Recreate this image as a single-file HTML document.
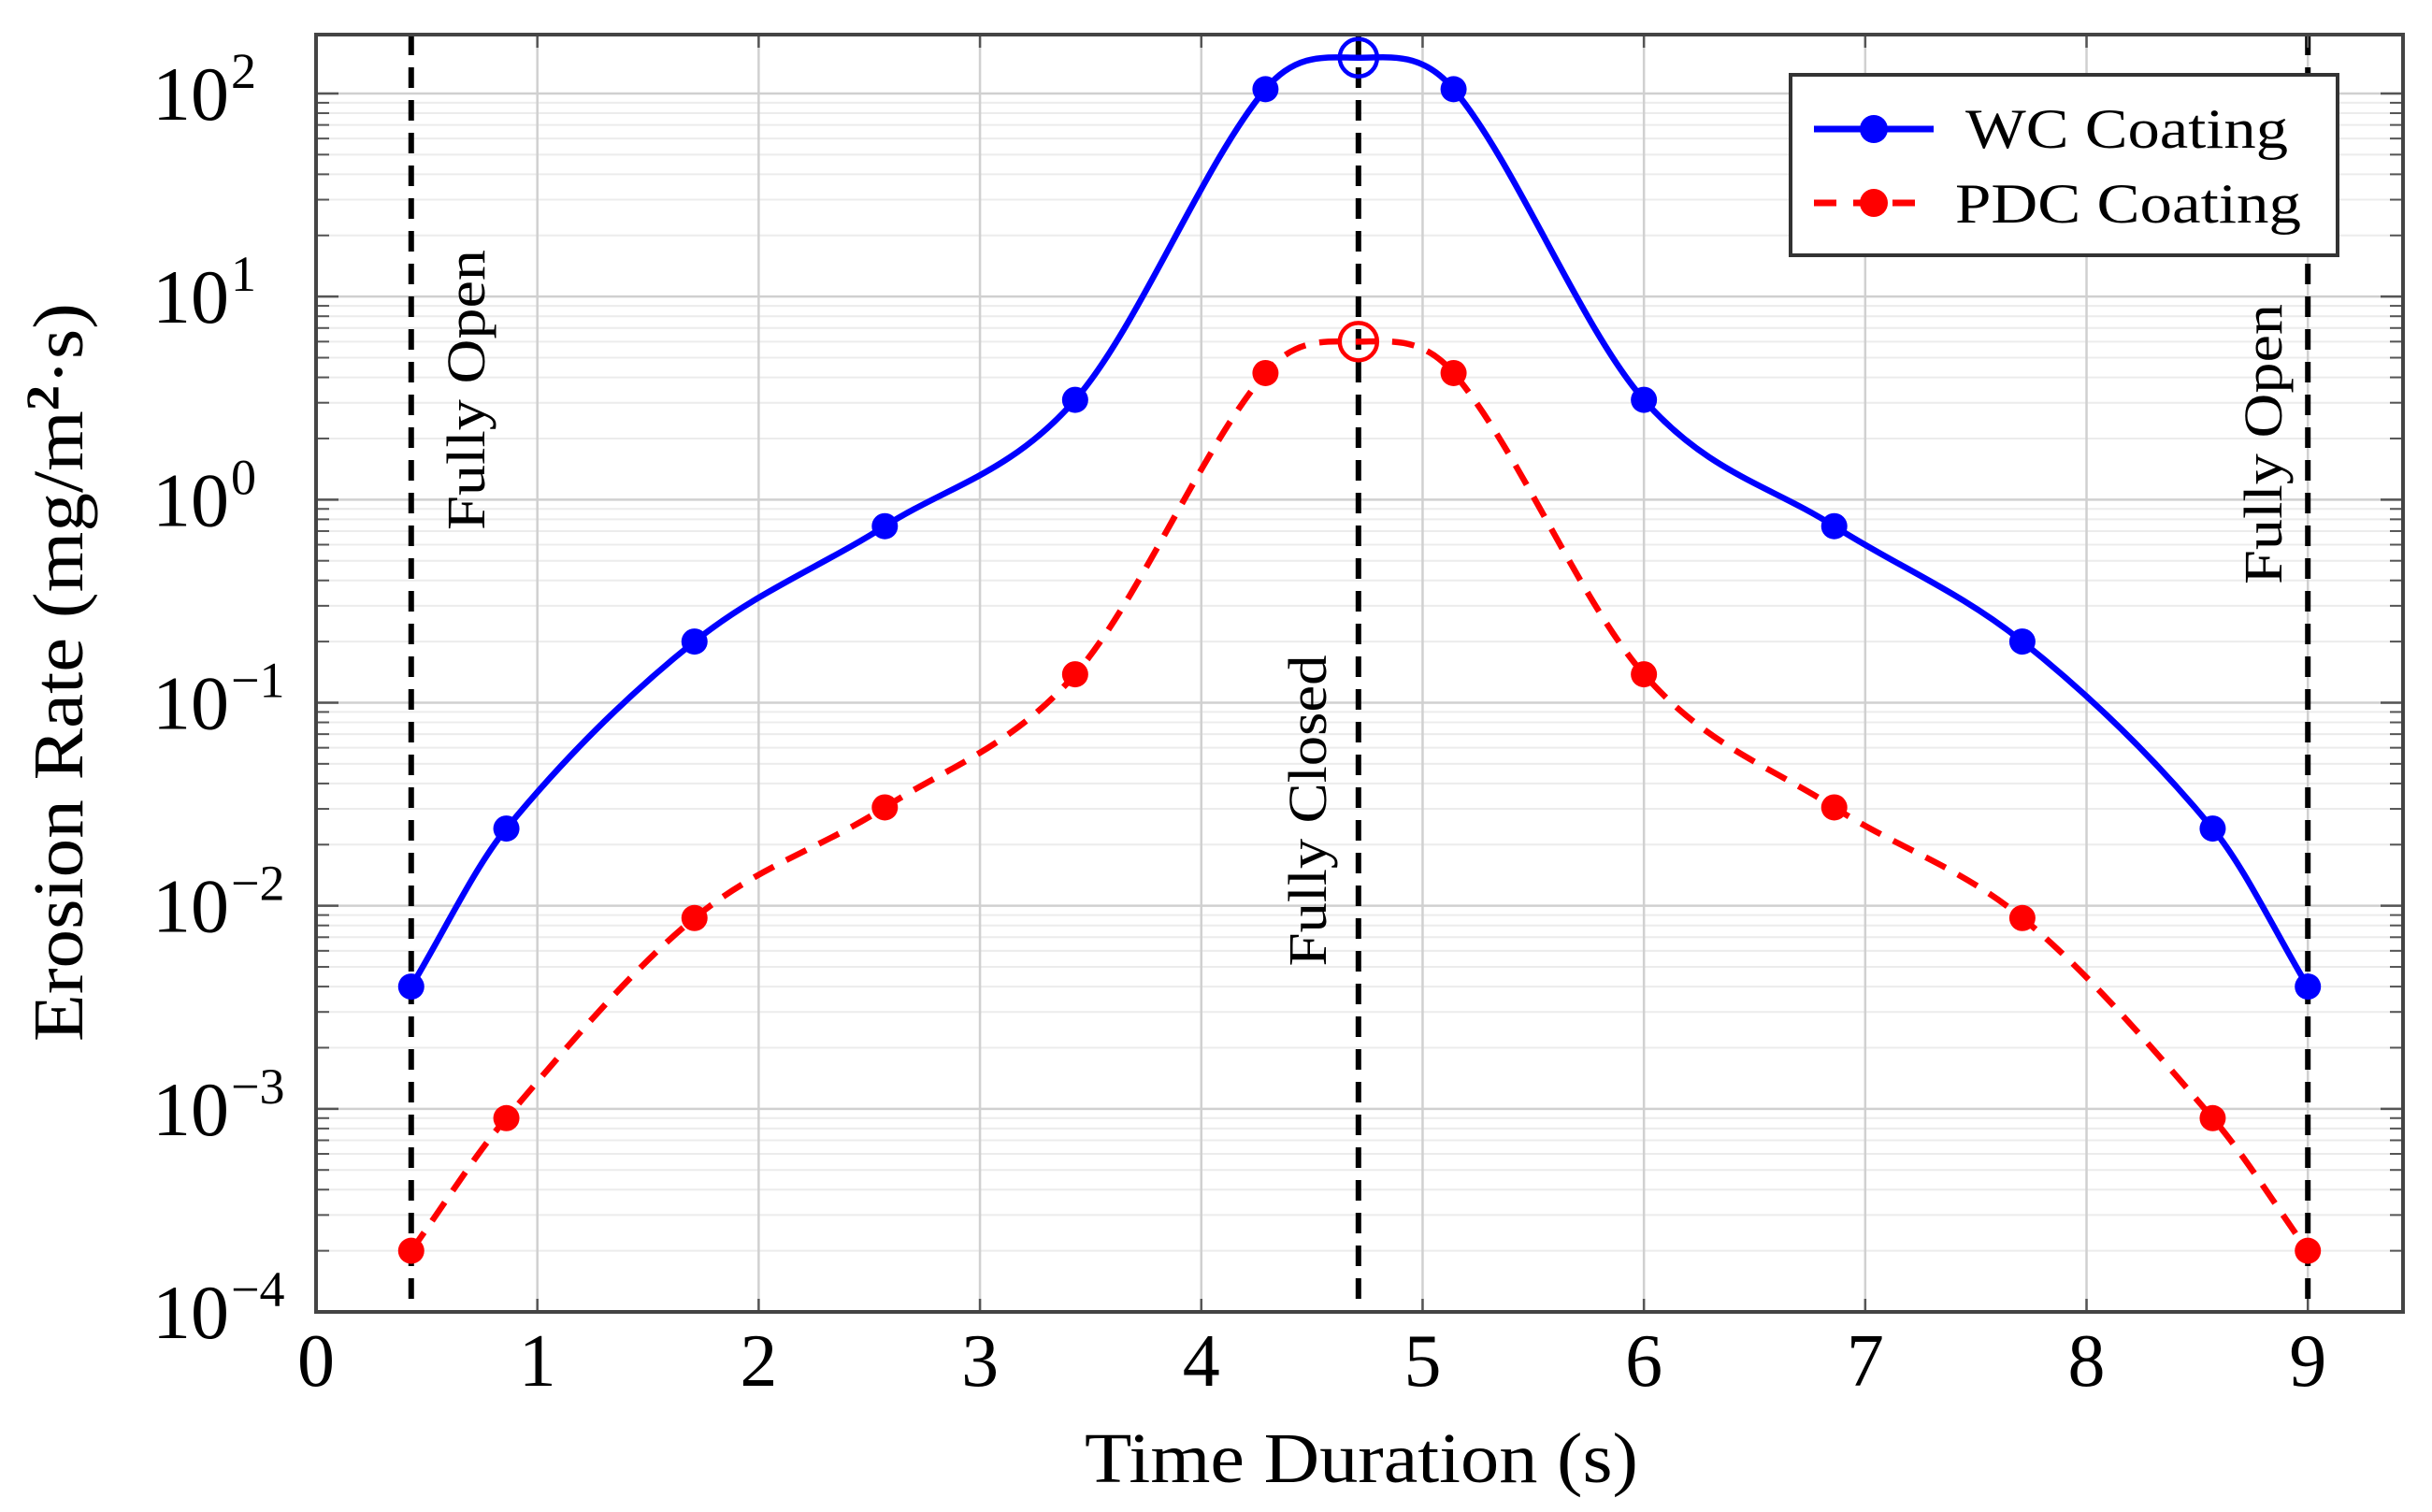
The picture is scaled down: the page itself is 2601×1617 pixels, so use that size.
<!DOCTYPE html>
<html><head><meta charset="utf-8"><style>
html,body{margin:0;padding:0;background:#fff;}
svg{display:block;}
text{font-family:"Liberation Serif",serif;fill:#000;}
</style></head><body>
<svg id="chart" width="2601" height="1617" viewBox="0 0 2601 1617" xmlns="http://www.w3.org/2000/svg">
<g id="grid"></g>
<g id="marks"></g>
<g id="axes"></g>
<text x="1456" y="1585" font-size="76" text-anchor="middle" textLength="592" lengthAdjust="spacingAndGlyphs">Time Duration (s)</text>
<text transform="translate(88,719) rotate(-90)" font-size="76" text-anchor="middle" textLength="790" lengthAdjust="spacingAndGlyphs">Erosion Rate (mg/m<tspan font-size="50" dy="-26" font-weight="bold">2</tspan><tspan dy="26">·s)</tspan></text>
<g>
<rect x="1915" y="80" width="585" height="193" fill="#fff" stroke="#333" stroke-width="4"/>
<g>
<line x1="1940" y1="138" x2="2068" y2="138" stroke="#0000ff" stroke-width="7"/>
<circle cx="2004" cy="138" r="15" fill="#0000ff"/>
<text x="2102" y="158" font-size="60" textLength="345" lengthAdjust="spacingAndGlyphs">WC Coating</text>
</g>
<g>
<line x1="1940" y1="217" x2="2056" y2="217" stroke="#ff0000" stroke-width="7" stroke-dasharray="24,18"/>
<circle cx="2004" cy="217" r="15" fill="#ff0000"/>
<text x="2091" y="238" font-size="60" textLength="370" lengthAdjust="spacingAndGlyphs">PDC Coating</text>
</g>
</g>
</svg>
<script>
const xValues = [0.43, 0.86, 1.71, 2.57, 3.43, 4.29, 4.71, 5.14, 6.0, 6.86, 7.71, 8.57, 9.0];
const wcValues = [0.004, 0.024, 0.2, 0.74, 3.1, 105, 150, 105, 3.1, 0.74, 0.2, 0.024, 0.004];
const pdcValues = [0.0002, 0.0009, 0.0087, 0.0305, 0.138, 4.2, 6.0, 4.2, 0.138, 0.0305, 0.0087, 0.0009, 0.0002];
const peakIndex = 6;
const xTicks = [0,1,2,3,4,5,6,7,8,9];
const yExponents = [-4,-3,-2,-1,0,1,2];
const eventX = [0.43, 4.71, 9.0];
const eventLabels = ["Fully Open","Fully Closed","Fully Open"];

const L=338,R=2570,T=37,B=1403, XMAX=9.43, YMIN=-4, YMAX=2.29;
const sx=v=>L+(v/XMAX)*(R-L);
const sy=v=>B-(Math.log10(v)-YMIN)/(YMAX-YMIN)*(B-T);
const NS="http://www.w3.org/2000/svg";
function mk(tag,attrs,parent){const e=document.createElementNS(NS,tag);for(const k in attrs)e.setAttribute(k,attrs[k]);parent.appendChild(e);return e;}
const grid=document.getElementById('grid'),marks=document.getElementById('marks'),axes=document.getElementById('axes');

for(let e=YMIN;e<Math.ceil(YMAX);e++){for(let m=2;m<=9;m++){const v=m*Math.pow(10,e);const y=sy(v);if(y<T)continue;
 const g=mk('line',{x1:L,x2:R,y1:y,y2:y,stroke:'#ececec','stroke-width':2},grid);
 
 
 mk('line',{x1:L,x2:L+14,y1:y,y2:y,stroke:'#555','stroke-width':2},axes);
 mk('line',{x1:R-14,x2:R,y1:y,y2:y,stroke:'#555','stroke-width':2},axes);}}
yExponents.forEach(e=>{const y=sy(Math.pow(10,e));
 const g=mk('line',{x1:L,x2:R,y1:y,y2:y,stroke:'#d0d0d0','stroke-width':2.5},grid);
 
 
 mk('line',{x1:L,x2:L+24,y1:y,y2:y,stroke:'#555','stroke-width':2.5},axes);
 mk('line',{x1:R-24,x2:R,y1:y,y2:y,stroke:'#555','stroke-width':2.5},axes);
 const t=mk('text',{x:245,y:y+28,'font-size':82,'text-anchor':'end'},axes);
 
 
 t.textContent='10';
 const s=mk('text',{x:247,y:y-6,'font-size':54},axes);
 
 
 s.textContent=e<0?'\u2212'+(-e):String(e);
});
xTicks.forEach(v=>{const x=sx(v);
 const g=mk('line',{x1:x,x2:x,y1:T,y2:B,stroke:'#d0d0d0','stroke-width':2.5},grid);
 
 
 mk('line',{x1:x,x2:x,y1:B-14,y2:B,stroke:'#555','stroke-width':2.5},axes);
 mk('line',{x1:x,x2:x,y1:T,y2:T+14,stroke:'#555','stroke-width':2.5},axes);
 const t=mk('text',{x:x,y:1482,'font-size':80,'text-anchor':'middle'},axes);
 
 
 t.textContent=String(v);
});
const frame=mk('rect',{x:L,y:T,width:R-L,height:B-T,fill:'none',stroke:'#444','stroke-width':4},axes);



const labelPos=[[518,417,300],[1418,867,333],[2440,475,300]];
eventX.forEach((v,i)=>{const x=sx(v);
 const l=mk('line',{x1:x,x2:x,y1:T,y2:B,stroke:'#000','stroke-width':6,'stroke-dasharray':'22,13'},marks);
 
 
 const p=labelPos[i];
 const t=mk('text',{transform:`translate(${p[0]},${p[1]}) rotate(-90)`,'font-size':58,'text-anchor':'middle',textLength:p[2],lengthAdjust:'spacingAndGlyphs'},marks);
 
 
 t.textContent=eventLabels[i];
});

function smoothPath(pts){
 const n=pts.length, m=[];
 for(let i=0;i<n;i++){
  const p0=pts[i-1]||pts[i], p2=pts[i+1]||pts[i];
  let t=(p2[1]-p0[1])/(p2[0]-p0[0]);
  if(i>0&&i<n-1){const a=pts[i][1]-pts[i-1][1], b=pts[i+1][1]-pts[i][1]; if(a*b<=0) t=0;}
  m.push(t);
 }
 let d=`M${pts[0][0]},${pts[0][1]}`;
 for(let i=0;i<n-1;i++){const p1=pts[i],p2=pts[i+1],h=(p2[0]-p1[0])/3;
  d+=` C${p1[0]+h},${p1[1]+m[i]*h} ${p2[0]-h},${p2[1]-m[i+1]*h} ${p2[0]},${p2[1]}`;}
 return d;}
function series(vals,color,dash,name){
 const pts=xValues.map((x,i)=>[sx(x),sy(vals[i])]);
 const attrs={d:smoothPath(pts),fill:'none',stroke:color,'stroke-width':6.5};if(dash)attrs['stroke-dasharray']=dash;
 const p=mk('path',attrs,marks);
 
 
 pts.forEach((pt,i)=>{
  if(i===peakIndex){const c=mk('circle',{cx:pt[0],cy:pt[1],r:20,fill:'none',stroke:color,'stroke-width':4.5},marks);
   
   }
  else{const c=mk('circle',{cx:pt[0],cy:pt[1],r:14,fill:color},marks);
   
   }
 });
}
series(wcValues,'#0000ff',null,'wc');
series(pdcValues,'#ff0000','24,15','pdc');
</script>
</body></html>
